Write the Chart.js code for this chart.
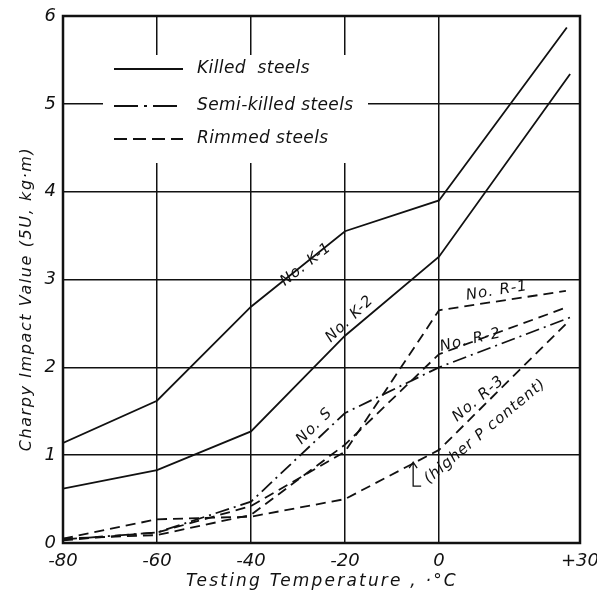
<!DOCTYPE html>
<html><head><meta charset="utf-8">
<script src="https://cdn.jsdelivr.net/npm/chart.js@4.4.1/dist/chart.umd.min.js"></script>
<style>html,body{margin:0;padding:0;background:#fff}#wrap{width:597px;height:597px}</style>
</head><body><div id="wrap"><canvas id="c" width="597" height="597"></canvas></div>
<script>
// ---- data ----
const xTicks = [-80, -60, -40, -20, 0, 30];
const xTickLabels = ['-80', '-60', '-40', '-20', '0', '+30'];
const yTicks = [0, 1, 2, 3, 4, 5, 6];

const k1X = [-80, -60, -40, -20, 0, 27.2];
const k1Y = [1.14, 1.62, 2.69, 3.55, 3.90, 5.87];
const k2X = [-80, -60, -40, -20, 0, 27.9];
const k2Y = [0.62, 0.83, 1.27, 2.36, 3.26, 5.34];
const sX  = [-80, -60, -40, -20, 0, 28.0];
const sY  = [0.04, 0.12, 0.47, 1.48, 2.00, 2.57];
const r1X = [-80, -60, -40, -20, 0, 27.0];
const r1Y = [0.03, 0.12, 0.42, 1.04, 2.65, 2.87];
const r2X = [-80, -60, -40, -20, 0, 27.0];
const r2Y = [0.05, 0.09, 0.32, 1.12, 2.15, 2.68];
const r3X = [-80, -60, -40, -20, 0, 27.5];
const r3Y = [0.05, 0.27, 0.30, 0.50, 1.06, 2.52];

const legendLabels = ['Killed  steels', 'Semi-killed steels', 'Rimmed steels'];
const curveLabels = [
  {text: 'No. K-1', x: -28.3, y: 3.17, a: -38},
  {text: 'No. K-2', x: -19.0, y: 2.55, a: -44},
  {text: 'No. S',   x: -26.5, y: 1.33, a: -45},
  {text: 'No. R-1', x: 12.3,  y: 2.87, a: -9},
  {text: 'No. R-2', x: 6.7,   y: 2.31, a: -13},
  {text: 'No. R-3', x: 8.4,   y: 1.64, a: -40},
  {text: '(higher P content)', x: 9.8, y: 1.27, a: -40}
];
const yTitle = 'Charpy Impact Value (5U, kg·m)';
const xTitle = 'Testing Temperature , ·°C';

const FONT = '"DejaVu Sans", "Liberation Sans", sans-serif';
const pts = (xs, ys) => xs.map((x, i) => ({x: x, y: ys[i]}));
const DASH = [10, 6];
const DASHDOT = [14, 5, 2, 5];

function ds(label, xs, ys, dash) {
  return {label, data: pts(xs, ys), borderColor: '#111', borderWidth: 1.8,
    borderDash: dash, pointRadius: 0, tension: 0, fill: false, showLine: true};
}

const deco = {
  id: 'deco',
  beforeDatasetsDraw(chart) {
    const ctx = chart.ctx;
    ctx.save();
    ctx.fillStyle = '#fff';
    ctx.fillRect(103, 55, 265, 108);
    ctx.restore();
  },
  afterDatasetsDraw(chart) {
    const ctx = chart.ctx, xs = chart.scales.x, ys = chart.scales.y;
    const ca = chart.chartArea;
    ctx.save();
    // legend
    ctx.strokeStyle = '#111'; ctx.lineWidth = 2;
    const rows = [[69, []], [106, [24, 6, 3, 6]], [139, [13, 6]]];
    rows.forEach((r) => {
      ctx.setLineDash(r[1]);
      ctx.beginPath(); ctx.moveTo(114, r[0]); ctx.lineTo(183, r[0]); ctx.stroke();
    });
    ctx.setLineDash([]);
    ctx.fillStyle = '#111';
    ctx.font = 'italic 17px ' + FONT;
    ctx.letterSpacing = '0.4px';
    ctx.textBaseline = 'middle'; ctx.textAlign = 'left';
    legendLabels.forEach((t, i) => ctx.fillText(t, 197, rows[i][0]));
    // curve labels
    ctx.font = 'italic 15px ' + FONT;
    ctx.letterSpacing = '1px';
    ctx.textAlign = 'center';
    curveLabels.forEach(l => {
      ctx.save();
      ctx.translate(xs.getPixelForValue(l.x), ys.getPixelForValue(l.y));
      ctx.rotate(l.a * Math.PI / 180);
      ctx.fillText(l.text, 0, 0);
      ctx.restore();
    });
    ctx.letterSpacing = '0px';
    // small arrow marker for R-3
    const ax = xs.getPixelForValue(-5.5), ay = ys.getPixelForValue(0.92);
    ctx.lineWidth = 1.3;
    ctx.beginPath();
    ctx.moveTo(ax, ay); ctx.lineTo(ax, ay + 24); ctx.lineTo(ax + 8, ay + 24);
    ctx.moveTo(ax - 4, ay + 6); ctx.lineTo(ax, ay); ctx.lineTo(ax + 4, ay + 6);
    ctx.stroke();
    // frame
    ctx.lineWidth = 2.5;
    ctx.strokeRect(ca.left, ca.top, ca.right - ca.left, ca.bottom - ca.top);
    ctx.restore();
  },
  afterDraw(chart) {
    const ctx = chart.ctx;
    ctx.save();
    ctx.fillStyle = '#111';
    ctx.font = 'italic 16px ' + FONT;
    ctx.letterSpacing = '1.6px';
    ctx.textAlign = 'center'; ctx.textBaseline = 'middle';
    ctx.save();
    ctx.translate(27, 299);
    ctx.rotate(-Math.PI / 2);
    ctx.fillText(yTitle, 0, 0);
    ctx.restore();
    ctx.font = 'italic 17px ' + FONT;
    ctx.letterSpacing = '2.2px';
    ctx.fillText(xTitle, 322, 582);
    ctx.restore();
  }
};

new Chart(document.getElementById('c'), {
  type: 'scatter',
  data: {datasets: [
    ds('No. K-1', k1X, k1Y, []),
    ds('No. K-2', k2X, k2Y, []),
    ds('No. S', sX, sY, DASHDOT),
    ds('No. R-1', r1X, r1Y, DASH),
    ds('No. R-2', r2X, r2Y, DASH),
    ds('No. R-3', r3X, r3Y, DASH)
  ]},
  options: {
    responsive: false, animation: false,
    layout: {padding: {top: 16, right: 17, left: 0, bottom: 0}},
    plugins: {legend: {display: false}, tooltip: {enabled: false}},
    scales: {
      x: {type: 'linear', min: -80, max: 30,
        afterBuildTicks: s => { s.ticks = xTicks.map(v => ({value: v})); },
        afterFit: s => { s.height = 54; s.paddingLeft = 0; s.paddingRight = 0; },
        ticks: {padding: 8, color: '#111', font: {family: FONT, size: 18, style: 'italic'},
          callback: v => { const i = xTicks.indexOf(v); return i >= 0 ? xTickLabels[i] : ''; }},
        grid: {color: '#111', lineWidth: 1.5, drawTicks: false},
        border: {display: false}
      },
      y: {type: 'linear', min: 0, max: 6,
        afterBuildTicks: s => { s.ticks = yTicks.map(v => ({value: v})); },
        afterFit: s => { s.width = 63; s.paddingTop = 0; s.paddingBottom = 0; },
        ticks: {padding: 7, color: '#111', font: {family: FONT, size: 18, style: 'italic'}},
        grid: {color: '#111', lineWidth: 1.5, drawTicks: false},
        border: {display: false}
      }
    }
  },
  plugins: [deco]
});
</script></body></html>
